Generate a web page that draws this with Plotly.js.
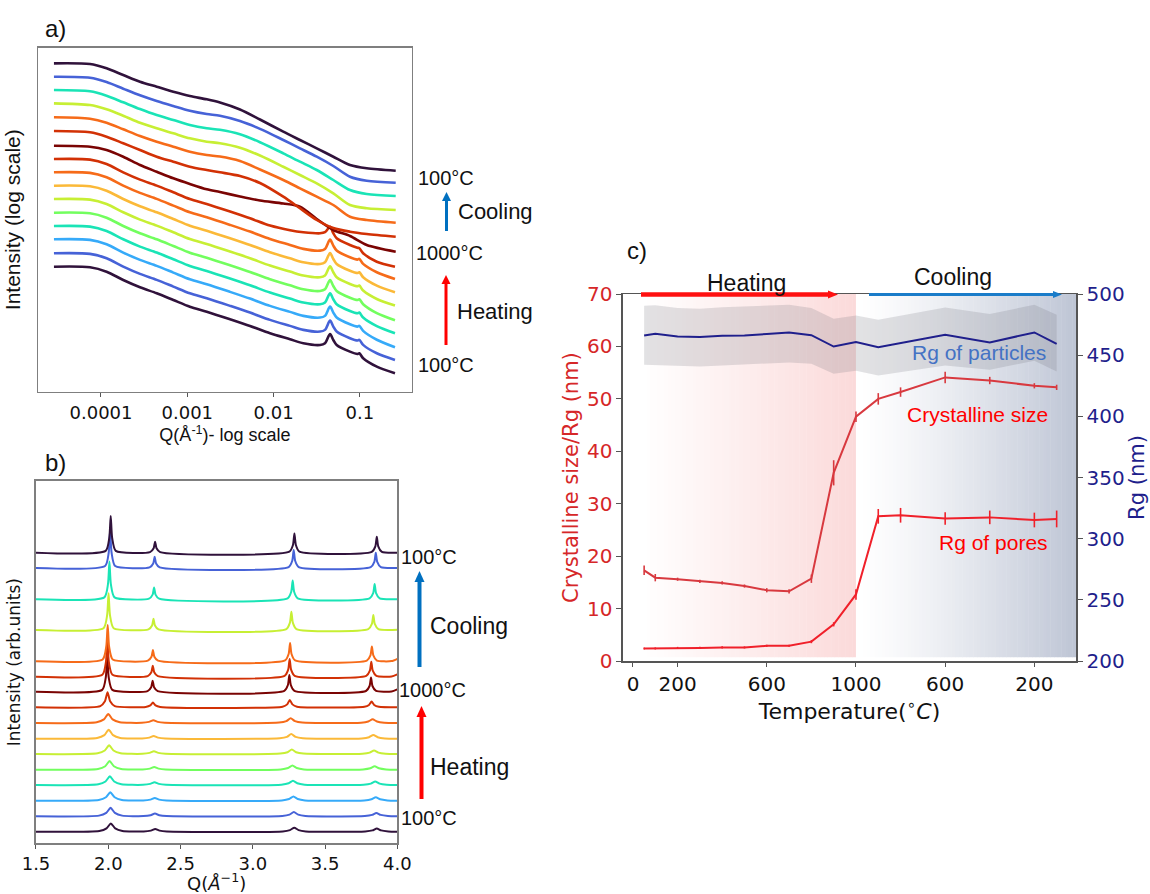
<!DOCTYPE html>
<html>
<head>
<meta charset="utf-8">
<script src="https://cdn.plot.ly/plotly-3.0.1.min.js"></script>
<style>html,body{margin:0;padding:0;background:#fff;}#chart{width:1150px;height:894px;}</style>
</head>
<body>
<div id="chart"></div>
<script>
// ---------------- Panel a) SAXS curves (Q in 1/Å, log-intensity in offset units) ----------------
const qHeat = [2.85e-5, 7.46e-5, 1.16e-4, 1.81e-4, 2.83e-4, 4.42e-4, 6.89e-4, 1.07e-3, 1.68e-3, 3.13e-3, 5.33e-3, 9.09e-3, 0.0155, 0.0221, 0.0345, 0.0394, 0.0451, 0.0492, 0.0538, 0.0767, 0.0933, 0.0985, 0.109, 0.157, 0.255];
const aH100 = [125.0,124.4,120.0,111.7,104.4,98.4,91.7,85.0,80.0,72.4,65.7,58.4,52.4,48.4,46.7,48.4,57.7,51.7,46.7,40.0,37.7,38.4,33.4,25.0,18.4];
const aH200 = [138.4,137.8,133.4,125.1,117.8,111.8,105.1,98.4,93.4,85.8,79.1,71.8,65.8,61.8,60.1,61.8,71.1,65.1,60.1,53.4,51.1,51.8,46.8,38.4,31.7];
const aH300 = [152.4,151.8,147.4,139.1,131.8,125.8,119.1,112.4,107.4,99.8,93.1,85.8,79.8,75.8,74.1,75.8,85.1,79.1,74.1,67.4,65.1,65.8,60.8,51.9,44.4];
const aH400 = [165.7,165.1,160.7,152.4,145.1,139.1,132.4,125.7,120.7,113.1,106.4,99.1,93.1,89.1,87.4,89.1,98.4,92.4,87.4,80.7,78.4,79.1,74.1,65.5,58.4];
const aH500 = [179.0,178.4,174.0,165.7,158.4,152.4,145.7,139.0,134.0,126.4,119.7,112.4,106.4,102.4,100.7,102.4,111.7,105.7,100.7,94.0,91.7,92.4,87.4,78.5,71.4];
const aH600 = [192.7,192.1,187.7,179.4,172.1,166.1,159.4,152.7,147.7,140.1,133.4,126.1,120.1,116.1,114.4,116.1,125.4,119.4,114.4,107.7,105.4,106.1,101.1,92.7,86.2];
const aH700 = [206.0,205.4,201.0,192.7,185.4,179.4,172.7,166.0,161.0,153.4,146.7,139.4,133.4,129.4,127.7,129.4,138.7,132.7,127.7,121.0,118.7,119.4,114.4,106.0,99.5];
const aH800 = [219.4,218.8,214.4,206.1,198.8,192.8,186.1,179.4,174.4,166.8,160.1,152.8,146.8,142.8,141.1,142.8,152.1,146.1,141.1,134.4,132.1,132.8,127.8,119.4,112.6];
const aH900 = [232.7,232.1,227.7,219.4,212.1,206.1,199.4,192.7,187.7,180.1,173.4,166.1,161.5,159.5,158.4,159.5,165.0,158.5,153.4,146.7,144.0,143.4,138.5,130.0,125.0];

const qCool = [2.85e-5, 7.46e-5, 1.16e-4, 1.81e-4, 2.83e-4, 4.42e-4, 6.89e-4, 1.07e-3, 1.68e-3, 2.39e-3, 4.08e-3, 6.95e-3, 0.01295, 0.0202, 0.0316, 0.0492, 0.0768, 0.12, 0.26];
const a1000 = [246.0,245.0,241.7,235.0,226.7,220.0,213.4,207.7,202.4,199.7,195.2,191.2,188.2,185.0,172.7,161.7,155.7,146.7,140.0];
const aC900 = [260.7,259.4,255.0,248.4,241.7,235.0,230.0,225.0,221.7,219.4,215.7,208.7,195.0,183.4,171.7,163.7,160.0,157.7,155.0];
const aC800 = [274.4,273.0,269.0,262.4,255.7,250.0,245.0,240.0,236.7,235.2,230.7,222.2,211.7,203.4,195.0,186.7,175.0,171.7,169.0];
const aC600 = [288.4,286.7,282.4,276.0,269.0,263.4,258.4,253.4,250.0,248.5,244.0,236.2,225.0,216.7,208.4,198.4,186.7,183.4,181.7];
const aC400 = [301.7,300.4,296.0,289.4,282.7,276.7,271.7,266.7,263.4,261.9,257.4,249.5,238.4,230.0,221.7,211.7,201.7,197.7,195.7];
const aC200 = [315.0,314.0,309.7,303.0,296.4,290.7,285.7,281.0,277.7,275.9,270.7,262.9,251.7,243.4,235.0,225.7,215.0,211.0,209.0];
const aC100 = [328.4,327.7,323.4,316.7,310.0,305.0,300.0,295.7,292.4,289.2,282.2,272.2,260.0,251.7,243.4,235.0,226.7,223.4,221.0];

// ---------------- Panel b) diffraction patterns [Q, intensity] ----------------
const bH100 = [[1.5,11.6],[1.938,12.3],[1.988,14.9],[2.018,19.9],[2.048,14.9],[2.098,12.3],[2.245,11.8],[2.295,12.7],[2.325,14.3],[2.355,12.7],[2.405,11.8],[3.207,11.9],[3.257,13.2],[3.287,15.6],[3.317,13.2],[3.367,11.9],[3.778,11.9],[3.828,12.9],[3.858,14.9],[3.888,12.9],[3.938,11.9],[4.0,11.6]];
const bH200 = [[1.5,27.0],[1.936,27.7],[1.986,30.4],[2.016,35.5],[2.046,30.4],[2.096,27.7],[2.243,27.2],[2.293,28.1],[2.323,29.7],[2.353,28.1],[2.403,27.2],[3.204,27.3],[3.254,28.7],[3.284,31.2],[3.314,28.7],[3.364,27.3],[3.775,27.3],[3.825,28.4],[3.855,30.4],[3.885,28.4],[3.935,27.3],[4.0,27.0]];
const bH300 = [[1.5,42.6],[1.934,43.3],[1.984,46.0],[2.014,51.1],[2.044,46.0],[2.094,43.3],[2.242,42.8],[2.292,43.7],[2.322,45.3],[2.352,43.7],[2.402,42.8],[3.201,42.9],[3.251,44.3],[3.281,46.8],[3.311,44.3],[3.361,42.9],[3.771,42.9],[3.821,44.0],[3.851,46.0],[3.881,44.0],[3.931,42.9],[4.0,42.6]];
const bH400 = [[1.5,58.3],[1.931,59.0],[1.981,61.8],[2.011,67.0],[2.041,61.8],[2.091,59.0],[2.240,58.5],[2.290,59.4],[2.320,61.0],[2.350,59.4],[2.400,58.5],[3.198,58.6],[3.248,60.0],[3.278,62.6],[3.308,60.0],[3.358,58.6],[3.767,58.6],[3.817,59.7],[3.847,61.8],[3.877,59.7],[3.927,58.6],[4.0,58.3]];
const bH500 = [[1.5,73.6],[1.929,74.3],[1.979,77.1],[2.009,82.3],[2.039,77.1],[2.089,74.3],[2.238,73.8],[2.288,74.7],[2.318,76.3],[2.348,74.7],[2.398,73.8],[3.194,73.9],[3.244,75.3],[3.274,77.9],[3.304,75.3],[3.354,73.9],[3.763,73.9],[3.813,75.0],[3.843,77.1],[3.873,75.0],[3.923,73.9],[4.0,73.6]];
const bH600 = [[1.5,89.3],[1.926,90.0],[1.976,92.8],[2.006,98.1],[2.036,92.8],[2.086,90.0],[2.236,89.5],[2.286,90.4],[2.316,92.0],[2.346,90.4],[2.396,89.5],[3.190,89.7],[3.240,91.1],[3.270,93.8],[3.300,91.1],[3.350,89.7],[3.759,89.6],[3.809,90.7],[3.839,92.9],[3.869,90.7],[3.919,89.6],[4.0,89.3]];
const bH700 = [[1.5,104.6],[1.923,105.3],[1.973,108.2],[2.003,113.6],[2.033,108.2],[2.083,105.3],[2.234,104.8],[2.284,105.7],[2.314,107.3],[2.344,105.7],[2.394,104.8],[3.186,105.0],[3.236,106.4],[3.266,109.2],[3.296,106.4],[3.346,105.0],[3.754,104.9],[3.804,106.1],[3.834,108.3],[3.864,106.1],[3.914,104.9],[4.0,104.6]];
const bH800 = [[1.5,120.3],[1.920,121.0],[1.970,123.9],[2.000,129.3],[2.030,123.9],[2.080,121.0],[2.232,120.5],[2.282,121.4],[2.312,123.0],[2.342,121.4],[2.392,120.5],[3.182,120.7],[3.232,122.2],[3.262,125.0],[3.292,122.2],[3.342,120.7],[3.749,120.6],[3.799,121.8],[3.829,124.0],[3.859,121.8],[3.909,120.6],[4.0,120.3]];
const bH900 = [[1.5,136.0],[1.945,137.2],[1.977,142.0],[1.995,151.0],[2.013,142.0],[2.045,137.2],[2.259,136.4],[2.291,137.9],[2.309,140.7],[2.327,137.9],[2.359,136.4],[3.206,136.6],[3.238,138.9],[3.256,143.3],[3.274,138.9],[3.306,136.6],[3.772,136.5],[3.804,138.3],[3.822,141.7],[3.840,138.3],[3.872,136.5],[4.0,136.0]];
const b1000 = [[1.5,151.6],[1.958,153.4],[1.983,166.0],[1.993,187.6],[2.003,166.0],[2.028,153.4],[2.272,152.2],[2.297,156.0],[2.307,162.6],[2.317,156.0],[2.342,152.2],[3.218,152.4],[3.243,158.3],[3.253,168.3],[3.263,158.3],[3.288,152.4],[3.783,152.3],[3.808,157.3],[3.818,165.9],[3.828,157.3],[3.853,152.3],[3.96,151.8],[4.0,154.0]];
const bC900 = [[1.5,166.6],[1.959,168.5],[1.984,181.4],[1.994,203.6],[2.004,181.4],[2.029,168.5],[2.273,167.2],[2.298,171.0],[2.308,177.6],[2.318,171.0],[2.343,167.2],[3.220,167.5],[3.245,173.7],[3.255,184.3],[3.265,173.7],[3.290,167.5],[3.785,167.4],[3.810,172.6],[3.820,181.6],[3.830,172.6],[3.855,167.4],[3.96,166.8],[4.0,169.0]];
const bC800 = [[1.5,182.0],[1.961,183.8],[1.986,196.5],[1.996,218.3],[2.006,196.5],[2.031,183.8],[2.274,182.6],[2.299,186.5],[2.309,193.3],[2.319,186.5],[2.344,182.6],[3.223,182.9],[3.248,189.3],[3.258,200.3],[3.268,189.3],[3.293,182.9],[3.789,182.7],[3.814,187.9],[3.824,196.7],[3.834,187.9],[3.859,182.7],[3.96,182.2],[4.0,184.5]];
const bC600 = [[1.5,213.3],[1.967,215.1],[1.992,228.0],[2.002,250.0],[2.012,228.0],[2.037,215.1],[2.278,213.9],[2.303,217.8],[2.313,224.6],[2.323,217.8],[2.348,213.9],[3.232,214.2],[3.257,220.6],[3.267,231.6],[3.277,220.6],[3.302,214.2],[3.799,214.1],[3.824,219.3],[3.834,228.3],[3.844,219.3],[3.869,214.1],[4.0,213.5]];
const bC400 = [[1.5,244.0],[1.973,245.9],[1.998,259.1],[2.008,281.7],[2.018,259.1],[2.043,245.9],[2.282,244.6],[2.307,248.7],[2.317,255.7],[2.327,248.7],[2.352,244.6],[3.241,244.9],[3.266,251.5],[3.276,262.7],[3.286,251.5],[3.311,244.9],[3.808,244.8],[3.833,250.1],[3.843,259.3],[3.853,250.1],[3.878,244.8],[4.0,244.0]];
const bC200 = [[1.5,275.3],[1.978,277.2],[2.003,290.5],[2.013,313.3],[2.023,290.5],[2.048,277.2],[2.286,275.9],[2.311,279.8],[2.321,286.6],[2.331,279.8],[2.356,275.9],[3.248,276.2],[3.273,282.5],[3.283,293.3],[3.293,282.5],[3.318,276.2],[3.816,276.1],[3.841,281.4],[3.851,290.6],[3.861,281.4],[3.886,276.1],[4.0,275.3]];
const bC100 = [[1.5,290.6],[1.982,292.4],[2.007,305.3],[2.017,327.3],[2.027,305.3],[2.052,292.4],[2.289,291.2],[2.314,295.0],[2.324,301.6],[2.334,295.0],[2.359,291.2],[3.253,291.6],[3.278,298.3],[3.288,309.9],[3.298,298.3],[3.323,291.6],[3.823,291.4],[3.848,297.0],[3.858,306.6],[3.868,297.0],[3.893,291.4],[4.0,290.6]];

// ---------------- Panel c) sizes vs temperature ----------------
// axis position of each measurement (heating 50..1000, then cooling 900..100 placed after 1000)
const tempPos = [50,100,200,300,400,500,600,700,800,900,1000,1100,1200,1400,1600,1800,1900];
const tempTickPos = [0,200,600,1000,1400,1800];
const tempTickText = ["0","200","600","1000","600","200"];
const crystSize = [17.3,15.9,15.6,15.2,14.9,14.3,13.5,13.3,15.7,35.9,46.6,50.0,51.3,54.1,53.5,52.5,52.2];
const crystErr  = [0.9,0.7,0.3,0.3,0.3,0.3,0.4,0.4,0.8,2.4,1.0,1.1,0.9,1.1,0.7,0.5,0.5];
const poresRg   = [2.4,2.4,2.5,2.5,2.6,2.6,2.9,2.9,3.7,7.0,12.7,27.6,27.8,27.2,27.4,26.9,27.1];
const poresErr  = [0.2,0.2,0.2,0.2,0.2,0.2,0.2,0.2,0.3,0.4,1.0,1.4,1.4,1.2,1.3,1.4,1.6];
const partPos   = [50,100,200,300,400,500,600,700,800,900,1000,1100,1400,1600,1800,1900];
const partRg    = [466.1,467.5,465.3,464.8,465.9,466.1,467.3,468.6,466.4,457.1,460.7,456.6,466.7,460.4,468.6,459.3];
const partHigh  = [490.4,490.9,488.5,487.9,489.3,489.8,490.6,491.2,488.5,479.8,482.5,478.9,489.0,483.6,491.2,483.0];
const partLow   = [442.2,441.9,441.4,440.8,441.6,442.4,443.6,444.1,443.0,434.9,437.3,433.5,441.6,438.1,445.5,436.7];

// ---------------- styles ----------------
const C = {
  t100:'#30123b', t200:'#4662d7', t300:'#36aaf9', t400:'#1ae4b6', t500:'#72fe5e',
  t600:'#c7ef34', t700:'#fbb938', t800:'#f66b19', t900:'#d23105', t1000:'#7a0403'
};
const traces = [];

// panel a
const aSeries = [
  [qHeat,aH100,C.t100],[qHeat,aH200,C.t200],[qHeat,aH300,C.t300],[qHeat,aH400,C.t400],[qHeat,aH500,C.t500],
  [qHeat,aH600,C.t600],[qHeat,aH700,C.t700],[qHeat,aH800,C.t800],[qHeat,aH900,C.t900],
  [qCool,a1000,C.t1000],[qCool,aC900,C.t900],[qCool,aC800,C.t800],[qCool,aC600,C.t600],
  [qCool,aC400,C.t400],[qCool,aC200,C.t200],[qCool,aC100,C.t100]
];
aSeries.forEach(s => traces.push({
  type:'scatter', mode:'lines', x:s[0], y:s[1], xaxis:'x', yaxis:'y',
  line:{color:s[2], width:2.6, shape:'spline', smoothing:0.8}, hoverinfo:'skip'
}));

// panel b
const bSeries = [
  [bH100,C.t100],[bH200,C.t200],[bH300,C.t300],[bH400,C.t400],[bH500,C.t500],[bH600,C.t600],
  [bH700,C.t700],[bH800,C.t800],[bH900,C.t900],[b1000,C.t1000],[bC900,C.t900],[bC800,C.t800],
  [bC600,C.t600],[bC400,C.t400],[bC200,C.t200],[bC100,C.t100]
];
bSeries.forEach(s => traces.push({
  type:'scatter', mode:'lines', x:s[0].map(p=>p[0]), y:s[0].map(p=>p[1]), xaxis:'x2', yaxis:'y2',
  line:{color:s[1], width:2, shape:'spline', smoothing:0.6}, hoverinfo:'skip'
}));

// panel c
traces.push({type:'scatter', mode:'lines', x:partPos, y:partHigh, xaxis:'x3', yaxis:'y4',
  line:{width:0, color:'rgba(0,0,0,0)'}, hoverinfo:'skip'});
traces.push({type:'scatter', mode:'lines', x:partPos, y:partLow, xaxis:'x3', yaxis:'y4',
  fill:'tonexty', fillcolor:'rgba(110,110,120,0.2)', line:{width:0, color:'rgba(0,0,0,0)'}, hoverinfo:'skip'});
traces.push({type:'scatter', mode:'lines', x:partPos, y:partRg, xaxis:'x3', yaxis:'y4',
  line:{color:'#1f1f8c', width:2}, hoverinfo:'skip'});
traces.push({type:'scatter', mode:'lines', x:tempPos, y:crystSize, xaxis:'x3', yaxis:'y3',
  line:{color:'#d8393f', width:2},
  error_y:{type:'data', array:crystErr, visible:true, color:'#d8393f', thickness:1.6, width:0}, hoverinfo:'skip'});
traces.push({type:'scatter', mode:'lines', x:tempPos, y:poresRg, xaxis:'x3', yaxis:'y3',
  line:{color:'#f0202a', width:2},
  error_y:{type:'data', array:poresErr, visible:true, color:'#f0202a', thickness:1.6, width:0}, hoverinfo:'skip'});

// gradient background for panel c (decoration)
const shapes = [];
const N = 60;
function mix(c, f){ return `rgb(${Math.round(255+(c[0]-255)*f)},${Math.round(255+(c[1]-255)*f)},${Math.round(255+(c[2]-255)*f)})`; }
for (let i=0;i<N;i++){
  const x0 = 45 + (1000-45)*i/N, x1 = 45 + (1000-45)*(i+1)/N + 2;
  shapes.push({type:'rect', xref:'x3', yref:'y3', x0:x0, x1:Math.min(x1,1000), y0:0.7, y1:70,
    fillcolor:mix([251,218,218], (i+0.5)/N), line:{width:0}, layer:'below'});
}
for (let i=0;i<N;i++){
  const x0 = 1000 + (1987-1000)*i/N, x1 = 1000 + (1987-1000)*(i+1)/N + 2;
  shapes.push({type:'rect', xref:'x3', yref:'y3', x0:x0, x1:Math.min(x1,1987), y0:0.7, y1:70,
    fillcolor:mix([190,197,213], Math.pow((i+0.5)/N,1.3)), line:{width:0}, layer:'below'});
}
// decorative arrows (page pixel positions -> paper coords)
const PX = x => x/1150, PY = y => 1 - y/894;
function arrow(x1,y1,x2,y2,color,w,hl,hw){
  const len = Math.hypot(x2-x1,y2-y1), ux=(x2-x1)/len, uy=(y2-y1)/len;
  const bx = x2-ux*hl, by = y2-uy*hl;
  shapes.push({type:'line', xref:'paper', yref:'paper', x0:PX(x1), y0:PY(y1), x1:PX(bx+ux*1), y1:PY(by+uy*1),
    line:{color:color, width:w}});
  const px=-uy, py=ux;
  shapes.push({type:'path', xref:'paper', yref:'paper', fillcolor:color, line:{width:0},
    path:`M ${PX(x2)} ${PY(y2)} L ${PX(bx+px*hw)} ${PY(by+py*hw)} L ${PX(bx-px*hw)} ${PY(by-py*hw)} Z`});
}
arrow(446.5,231,446.5,192,'#0070c0',3,9,4.5);
arrow(446,345,446,275,'#ff0000',3,9,4.5);
arrow(419.5,667,419.5,571,'#0070c0',4,11,5);
arrow(421.5,799,421.5,706,'#ff0000',4,11,5);
arrow(641,294.5,838,294.5,'#ff1010',4.5,10,4);
arrow(869,294.5,1062,294.5,'#1a7cc9',3,9,3.5);

const dv = 'DejaVu Sans', lib = 'Liberation Sans, Arial';
const frameA = {showline:true, mirror:true, linecolor:'#7f7f7f', linewidth:1.5, showgrid:false, zeroline:false};
const anns = [];
function txt(x,y,t,size,color,xanchor,font){ anns.push({xref:'paper',yref:'paper',x:x/1150,y:1-y/894,text:t,showarrow:false,
  font:{family:font||lib,size:size,color:color||'#111'},xanchor:xanchor||'center',yanchor:'middle'}); }

// panel labels
txt(55,28,'a)',24); txt(55,462,'b)',24); txt(637,250,'c)',24);
// panel a side labels
txt(445.5,178,'100°C',20); txt(456,211,'Cooling',22,null,'left');
txt(449,253,'1000°C',20); txt(455,312,'Heating',22,null,'left');
txt(445.5,365,'100°C',20);
// panel b side labels
txt(428.5,557,'100°C',20); txt(428,626,'Cooling',23,null,'left');
txt(432.5,690,'1000°C',20); txt(428,767,'Heating',23,null,'left');
txt(428.5,818,'100°C',20);
// panel c texts
txt(746,283,'Heating',23); txt(953,277,'Cooling',23);
txt(979,353,'Rg of particles',21,'#4472c4');
txt(977,414,'Crystalline size',21,'#ff0000');
txt(993.5,542,'Rg of pores',21,'#ff0000');

const layout = {
  width:1150, height:894, margin:{l:0,r:0,t:0,b:0}, paper_bgcolor:'#fff', plot_bgcolor:'rgba(0,0,0,0)',
  showlegend:false, hovermode:false,
  xaxis: Object.assign({}, frameA, {domain:[0.0333,0.3580], anchor:'y', type:'log', range:[-4.7265,-0.3998],
    tickvals:[1e-4,1e-3,1e-2,1e-1], ticktext:['0.0001','0.001','0.01','0.1'], ticks:'outside', ticklen:4, tickcolor:'#555',
    tickfont:{family:dv,size:18,color:'#111'},
    title:{text:'Q(Å<sup>-1</sup>)- log scale', font:{family:lib,size:18,color:'#111'}, standoff:2}}),
  yaxis: Object.assign({}, frameA, {domain:[0.5619,0.9466], anchor:'x', range:[0,344], showticklabels:false, ticks:'',
    title:{text:'Intensity (log scale)', font:{family:lib,size:21,color:'#111'}, standoff:10}}),
  xaxis2: Object.assign({}, frameA, {domain:[0.0313,0.3455], anchor:'y2', range:[1.5,4.0],
    tickvals:[1.5,2.0,2.5,3.0,3.5,4.0], ticktext:['1.5','2.0','2.5','3.0','3.5','4.0'], ticks:'outside', ticklen:4, tickcolor:'#555',
    tickfont:{family:dv,size:18,color:'#111'},
    title:{text:'Q(<i>Å</i><sup>−1</sup>)', font:{family:dv,size:18,color:'#111'}, standoff:2}}),
  yaxis2: Object.assign({}, frameA, {domain:[0.0567,0.4620], anchor:'x2', range:[0,362.3], showticklabels:false, ticks:'',
    title:{text:'Intensity (arb.units)', font:{family:dv,size:17,color:'#111'}, standoff:9}}),
  xaxis3: {domain:[0.5417,0.9357], anchor:'y3', range:[-45,1987], tickvals:tempTickPos, ticktext:tempTickText,
    showline:true, mirror:true, linecolor:'#555', linewidth:1.5, showgrid:false, zeroline:false,
    ticks:'outside', ticklen:4, tickcolor:'#555', tickfont:{family:dv,size:20,color:'#111'},
    title:{text:'Temperature(<sup>∘</sup><i>C</i>)', font:{family:dv,size:22,color:'#111'}, standoff:0}},
  yaxis3: {domain:[0.2606,0.6711], anchor:'x3', range:[0,70], dtick:10, tick0:0,
    showline:true, linecolor:'#555', linewidth:1.5, showgrid:false, zeroline:false,
    ticks:'outside', ticklen:5, tickcolor:'#555', tickfont:{family:dv,size:20,color:'#d62728'},
    title:{text:'Crystalline size/Rg (nm)', font:{family:dv,size:21,color:'#d62728'}, standoff:2}},
  yaxis4: {overlaying:'y3', anchor:'x3', side:'right', range:[200,500], dtick:50, tick0:200,
    showline:true, linecolor:'#555', linewidth:1.5, showgrid:false, zeroline:false,
    ticks:'outside', ticklen:5, tickcolor:'#555', tickfont:{family:dv,size:20,color:'#1f1f8c'},
    title:{text:'Rg (nm)', font:{family:dv,size:21,color:'#1f1f8c'}, standoff:2}},
  shapes: shapes,
  annotations: anns
};
Plotly.newPlot('chart', traces, layout, {staticPlot:true, displayModeBar:false});
</script>
</body>
</html>
